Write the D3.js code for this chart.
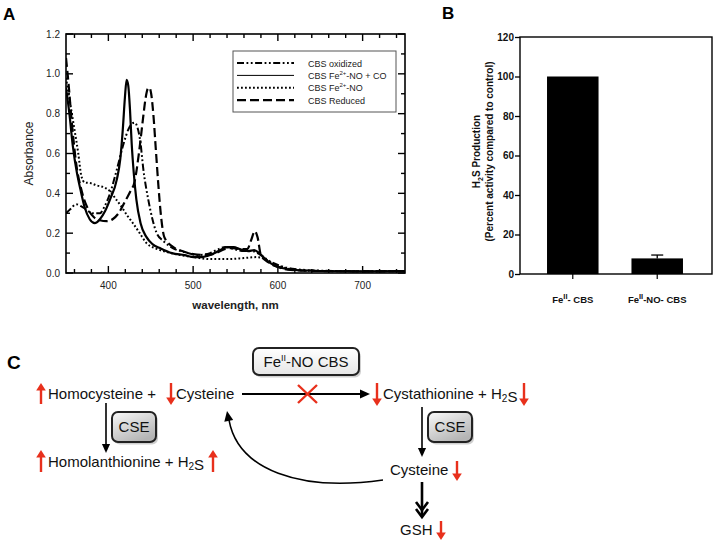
<!DOCTYPE html>
<html>
<head>
<meta charset="utf-8">
<script src="https://cdn.jsdelivr.net/npm/d3@7"></script>
<style>
  body { margin: 0; background: #fff; }
  svg { display: block; font-family: Arial, "Liberation Sans", sans-serif; }
</style>
</head>
<body>
<div id="fig"></div>
<script>
// ---- panel A: absorbance spectra, [wavelength nm, absorbance] ----
const oxidized = [[350,.30],[355,.32],[362,.345],[370,.33],[382,.30],[390,.30],[395,.33],[402,.40],[410,.52],[418,.65],[424,.725],[428,.75],[431,.755],[434,.735],[438,.65],[441,.53],[447,.37],[452,.27],[457,.20],[465,.16],[476,.125],[490,.105],[505,.09],[520,.10],[530,.12],[538,.13],[548,.12],[560,.11],[570,.11],[580,.09],[590,.06],[600,.04],[620,.02],[650,.012],[700,.009],[750,.01]];
const nitrosylCO = [[350,.93],[354,.80],[358,.64],[363,.50],[367,.42],[372,.33],[378,.27],[384,.25],[390,.27],[396,.31],[402,.37],[410,.47],[414,.57],[417,.72],[419.5,.88],[421.5,.97],[423.5,.94],[425.5,.82],[427.5,.65],[430,.50],[433,.37],[438,.25],[445,.18],[452,.145],[461,.125],[475,.10],[490,.09],[500,.08],[510,.08],[520,.09],[530,.11],[540,.13],[548,.13],[555,.12],[565,.11],[572,.115],[578,.10],[585,.07],[595,.04],[605,.025],[620,.015],[650,.01],[700,.008],[750,.009]];
const nitrosyl = [[350,.98],[355,.85],[360,.72],[364.5,.60],[368,.49],[372,.455],[380,.45],[386,.44],[395,.43],[402,.41],[409,.37],[416,.33],[422,.29],[429,.25],[437,.20],[445,.15],[455,.125],[469,.105],[485,.09],[500,.08],[520,.07],[540,.07],[560,.075],[575,.08],[585,.07],[595,.045],[605,.03],[620,.015],[650,.01],[700,.008],[750,.009]];
const reduced = [[350,1.08],[353,.95],[357,.75],[362,.55],[368,.42],[375,.33],[383,.28],[390,.265],[398,.26],[405,.27],[412,.30],[421,.37],[426,.41],[431,.46],[436,.60],[441,.78],[444,.88],[446.5,.925],[448.5,.93],[450.5,.90],[453,.80],[456,.62],[459,.44],[462,.29],[466,.18],[475,.135],[487,.11],[500,.095],[515,.09],[527,.10],[537,.12],[547,.125],[557,.12],[564,.12],[568,.16],[573,.21],[576,.18],[580,.09],[590,.05],[600,.03],[615,.015],[650,.01],[700,.008],[750,.009]];

const spectra = [
  { name: "CBS oxidized", pts: oxidized, dash: "7,2.5,1.8,2.5,1.8,2.5", width: 2 },
  { name: "CBS Fe2+-NO + CO", pts: nitrosylCO, dash: null, width: 2.2, legendWidth: 1 },
  { name: "CBS Fe2+-NO", pts: nitrosyl, dash: "1.8,2.2", width: 2 },
  { name: "CBS Reduced", pts: reduced, dash: "9,4", width: 2.2 }
];

const absTicks = [0, 0.2, 0.4, 0.6, 0.8, 1.0, 1.2];
const wlTicks = [400, 500, 600, 700];

// ---- panel B: H2S production ----
const bCategories = ["FeII- CBS", "FeII-NO- CBS"];
const bValues = [100, 7.9];
const bErrors = [0, 1.7];
const bTicks = [0, 20, 40, 60, 80, 100, 120];

const W = 714, H = 544;
const svg = d3.select("#fig").append("svg")
  .attr("width", W).attr("height", H)
  .attr("viewBox", `0 0 ${W} ${H}`);

const defs = svg.append("defs");

// ================= Panel A =================
const ax = { left: 66, right: 405, top: 34, bottom: 273 };
const xA = d3.scaleLinear().domain([350, 750]).range([ax.left, ax.right]);
const yA = d3.scaleLinear().domain([0, 1.2]).range([ax.bottom, ax.top]);

defs.append("clipPath").attr("id", "clipA")
  .append("rect").attr("x", ax.left).attr("y", ax.top)
  .attr("width", ax.right - ax.left).attr("height", ax.bottom - ax.top);

const gA = svg.append("g");

const line = d3.line()
  .x(d => xA(d[0])).y(d => yA(d[1]))
  .curve(d3.curveMonotoneX);

gA.append("g").attr("clip-path", "url(#clipA)")
  .selectAll("path").data(spectra).join("path")
  .attr("d", d => line(d.pts))
  .attr("fill", "none")
  .attr("stroke", "#000")
  .attr("stroke-width", d => d.width)
  .attr("stroke-dasharray", d => d.dash)
  .attr("stroke-linejoin", "round");

// inward ticks on all sides
const minorWl = d3.range(360, 750, 20).filter(v => !wlTicks.includes(v));
const minorAbs = d3.range(0.1, 1.2, 0.2);
const tickG = gA.append("g").attr("stroke", "#000").attr("stroke-width", 1.4);
[[ax.bottom, -1], [ax.top, 1]].forEach(([y0, s]) => {
  tickG.selectAll(null).data(wlTicks).join("line")
    .attr("x1", d => xA(d)).attr("x2", d => xA(d))
    .attr("y1", y0).attr("y2", y0 + s * 7);
  tickG.selectAll(null).data(minorWl).join("line")
    .attr("x1", d => xA(d)).attr("x2", d => xA(d))
    .attr("y1", y0).attr("y2", y0 + s * 4);
});
[[ax.left, 1], [ax.right, -1]].forEach(([x0, s]) => {
  tickG.selectAll(null).data(absTicks).join("line")
    .attr("y1", d => yA(d)).attr("y2", d => yA(d))
    .attr("x1", x0).attr("x2", x0 + s * 7);
  tickG.selectAll(null).data(minorAbs).join("line")
    .attr("y1", d => yA(d)).attr("y2", d => yA(d))
    .attr("x1", x0).attr("x2", x0 + s * 4);
});

gA.append("rect")
  .attr("x", ax.left).attr("y", ax.top)
  .attr("width", ax.right - ax.left).attr("height", ax.bottom - ax.top)
  .attr("fill", "none").attr("stroke", "#000").attr("stroke-width", 1.6);

gA.append("g").selectAll("text").data(absTicks).join("text")
  .attr("x", ax.left - 6).attr("y", d => yA(d) + 3.5)
  .attr("text-anchor", "end").attr("font-size", 10).attr("fill", "#222")
  .text(d3.format(".1f"));
gA.append("g").selectAll("text").data(wlTicks).join("text")
  .attr("x", d => xA(d)).attr("y", ax.bottom + 16)
  .attr("text-anchor", "middle").attr("font-size", 10).attr("fill", "#222")
  .text(d => d);

gA.append("text")
  .attr("transform", `translate(33,${(ax.top + ax.bottom) / 2}) rotate(-90)`)
  .attr("text-anchor", "middle").attr("font-size", 12).attr("fill", "#222")
  .text("Absorbance");
gA.append("text")
  .attr("x", (ax.left + ax.right) / 2).attr("y", ax.bottom + 36)
  .attr("text-anchor", "middle").attr("font-size", 11.5).attr("font-weight", "bold").attr("fill", "#222")
  .text("wavelength, nm");

// legend
const leg = gA.append("g");
leg.append("rect").attr("x", 233).attr("y", 51).attr("width", 163).attr("height", 61)
  .attr("fill", "#fff").attr("stroke", "#555").attr("stroke-width", 1);
const legRows = leg.selectAll("g").data(spectra).join("g")
  .attr("transform", (d, i) => `translate(0,${63 + i * 12.4})`);
legRows.append("line")
  .attr("x1", 237).attr("x2", 294)
  .attr("stroke", "#000")
  .attr("stroke-width", d => d.legendWidth || d.width)
  .attr("stroke-dasharray", d => d.dash);
legRows.append("text")
  .attr("x", 308).attr("y", 3.5).attr("font-size", 9).attr("fill", "#222")
  .each(function (d) {
    const t = d3.select(this);
    const m = d.name.match(/^(CBS Fe)(2\+)(.*)$/);
    if (m) {
      t.append("tspan").text(m[1]);
      t.append("tspan").attr("font-size", 6).attr("dy", -4).text(m[2]);
      t.append("tspan").attr("dy", 4).text(m[3]);
    } else t.text(d.name);
  });

svg.append("text").attr("x", 3).attr("y", 20)
  .attr("font-size", 17).attr("font-weight", "bold").text("A");

// ================= Panel B =================
const bx = { left: 520, right: 712, top: 37, bottom: 274 };
const xB = d3.scaleBand().domain(bCategories).range([bx.left, bx.right - 2])
  .paddingInner(0.39).paddingOuter(0.32);
const yB = d3.scaleLinear().domain([0, 120]).range([bx.bottom, bx.top]);
const gB = svg.append("g");

gB.selectAll("rect.bar").data(bValues).join("rect").attr("class", "bar")
  .attr("x", (d, i) => xB(bCategories[i]))
  .attr("width", xB.bandwidth())
  .attr("y", d => yB(d))
  .attr("height", d => yB(0) - yB(d))
  .attr("fill", "#000");

const errG = gB.append("g").attr("stroke", "#000").attr("stroke-width", 1.3);
bValues.forEach((v, i) => {
  if (!bErrors[i]) return;
  const cx = xB(bCategories[i]) + xB.bandwidth() / 2;
  errG.append("line").attr("x1", cx).attr("x2", cx).attr("y1", yB(v)).attr("y2", yB(v + bErrors[i]));
  errG.append("line").attr("x1", cx - 6).attr("x2", cx + 6).attr("y1", yB(v + bErrors[i])).attr("y2", yB(v + bErrors[i]));
});

gB.append("rect")
  .attr("x", bx.left).attr("y", bx.top)
  .attr("width", bx.right - bx.left).attr("height", bx.bottom - bx.top)
  .attr("fill", "none").attr("stroke", "#000").attr("stroke-width", 1.4);

const yAxisB = gB.append("g").attr("transform", `translate(${bx.left},0)`)
  .call(d3.axisLeft(yB).tickValues(bTicks).tickSize(5).tickSizeOuter(0));
yAxisB.select(".domain").remove();
yAxisB.selectAll("line").attr("stroke-width", 1.3);
yAxisB.selectAll("text").attr("font-size", 10).attr("font-weight", "bold")
  .attr("font-family", "Arial, 'Liberation Sans', sans-serif").attr("fill", "#111").attr("x", -6);

gB.append("g").selectAll("line").data(bCategories).join("line")
  .attr("x1", d => xB(d) + xB.bandwidth() / 2).attr("x2", d => xB(d) + xB.bandwidth() / 2)
  .attr("y1", bx.bottom).attr("y2", bx.bottom + 5)
  .attr("stroke", "#000").attr("stroke-width", 1.2);

gB.append("g").selectAll("text").data(bCategories).join("text")
  .attr("x", d => xB(d) + xB.bandwidth() / 2).attr("y", bx.bottom + 29)
  .attr("text-anchor", "middle").attr("font-size", 9.5).attr("font-weight", "bold").attr("fill", "#111")
  .each(function (d) {
    const t = d3.select(this);
    t.append("tspan").text("Fe");
    t.append("tspan").attr("font-size", 7.5).attr("dy", -4.5).text("II");
    t.append("tspan").attr("dy", 4.5).text(d.slice(4));
  });

const bTitle = gB.append("g")
  .attr("transform", `translate(0,${(bx.top + bx.bottom) / 2 - 4}) rotate(-90)`)
  .attr("font-size", 10).attr("font-weight", "bold").attr("fill", "#111").attr("text-anchor", "middle");
const t1 = bTitle.append("text").attr("x", 0).attr("y", 480);
t1.append("tspan").text("H");
t1.append("tspan").attr("font-size", 7).attr("dy", 3).text("2");
t1.append("tspan").attr("dy", -3).text("S Production");
bTitle.append("text").attr("x", 0).attr("y", 493).text("(Percent activity compared to control)");

svg.append("text").attr("x", 442).attr("y", 19)
  .attr("font-size", 17).attr("font-weight", "bold").text("B");

// ================= Panel C =================
const red = "#e8301c";
const gC = svg.append("g").attr("font-size", 15).attr("fill", "#111");

svg.append("text").attr("x", 7).attr("y", 369)
  .attr("font-size", 19).attr("font-weight", "bold").text("C");

const boxGrad = defs.append("linearGradient").attr("id", "cseGrad")
  .attr("x1", 0).attr("y1", 0).attr("x2", 0.6).attr("y2", 1);
boxGrad.append("stop").attr("offset", "0%").attr("stop-color", "#fafafa");
boxGrad.append("stop").attr("offset", "100%").attr("stop-color", "#b4b4b4");
const fnGrad = defs.append("linearGradient").attr("id", "fnGrad")
  .attr("x1", 0).attr("y1", 0).attr("x2", 0).attr("y2", 1);
fnGrad.append("stop").attr("offset", "0%").attr("stop-color", "#ffffff");
fnGrad.append("stop").attr("offset", "100%").attr("stop-color", "#e6e6e6");

function box(x, y, w, h, fill, label, sup) {
  gC.append("rect").attr("x", x + 2).attr("y", y + 2.5).attr("width", w).attr("height", h)
    .attr("rx", 6).attr("fill", "#cfcfcf");
  gC.append("rect").attr("x", x).attr("y", y).attr("width", w).attr("height", h)
    .attr("rx", 6).attr("fill", fill).attr("stroke", "#222").attr("stroke-width", 2);
  const t = gC.append("text").attr("x", x + w / 2).attr("y", y + h / 2 + 5).attr("text-anchor", "middle");
  if (sup) {
    t.append("tspan").text("Fe");
    t.append("tspan").attr("font-size", 9).attr("dy", -6).text("II");
    t.append("tspan").attr("dy", 6).text("-NO CBS");
  } else t.text(label);
}

function redArrow(x, y1, y2) {
  // y1 = tail, y2 = tip
  const s = y2 > y1 ? 1 : -1;
  gC.append("line").attr("x1", x).attr("x2", x).attr("y1", y1).attr("y2", y2 - s * 6)
    .attr("stroke", red).attr("stroke-width", 2.4);
  gC.append("path").attr("d", `M${x - 4.8},${y2 - s * 7.5}L${x},${y2}L${x + 4.8},${y2 - s * 7.5}Z`)
    .attr("fill", red);
}

function blackArrowHead(x, y, angle, size) {
  gC.append("path")
    .attr("d", `M0,0L${-size},${-size * 0.45}L${-size},${size * 0.45}Z`)
    .attr("transform", `translate(${x},${y}) rotate(${angle})`)
    .attr("fill", "#000");
}

function label(x, y, parts) {
  const t = gC.append("text").attr("x", x).attr("y", y);
  parts.forEach(p => {
    if (typeof p === "string") t.append("tspan").text(p);
    else {
      t.append("tspan").attr("font-size", 10).attr("dy", 3).text(p.sub);
      t.append("tspan").attr("dy", -3).text("");
    }
  });
  return t;
}

// row 1
redArrow(41, 404, 383);
label(48, 399, ["Homocysteine  +"]);
redArrow(171, 383, 405);
label(176, 399, ["Cysteine"]);

gC.append("line").attr("x1", 242).attr("x2", 362).attr("y1", 394).attr("y2", 394)
  .attr("stroke", "#000").attr("stroke-width", 2.2);
blackArrowHead(370, 394, 0, 10);
gC.append("path").attr("d", "M298,385L317,403M317,385L298,403")
  .attr("stroke", red).attr("stroke-width", 2.4).attr("fill", "none");
box(253, 348, 106, 27, "url(#fnGrad)", "", true);

redArrow(377, 383, 406);
label(383, 399, ["Cystathionine + H", { sub: "2" }, "S"]);
redArrow(524, 383, 406);

// left branch
gC.append("line").attr("x1", 106).attr("x2", 106).attr("y1", 403).attr("y2", 446)
  .attr("stroke", "#000").attr("stroke-width", 1.6);
blackArrowHead(106, 453, 90, 9);
box(112, 412, 44, 30, "url(#cseGrad)", "CSE", false);
redArrow(41, 472, 450);
label(48, 467, ["Homolanthionine + H", { sub: "2" }, "S"]);
redArrow(213, 472, 450);

// right branch
gC.append("line").attr("x1", 422).attr("x2", 422).attr("y1", 407).attr("y2", 450)
  .attr("stroke", "#000").attr("stroke-width", 1.6);
blackArrowHead(422, 457, 90, 9);
box(428, 412, 44, 30, "url(#cseGrad)", "CSE", false);
label(390, 475, ["Cysteine"]);
redArrow(457, 461, 481);

// recycling curve
gC.append("path").attr("d", "M383,480C300,492 238,470 229,420")
  .attr("fill", "none").attr("stroke", "#000").attr("stroke-width", 1.5);
blackArrowHead(227, 411, -100, 10);

// to GSH
gC.append("line").attr("x1", 422).attr("x2", 422).attr("y1", 482).attr("y2", 516)
  .attr("stroke", "#000").attr("stroke-width", 2.6);
gC.append("path").attr("d", "M416,502L422,510L428,502M416,509L422,517L428,509")
  .attr("fill", "none").attr("stroke", "#000").attr("stroke-width", 2.6);
label(400, 535, ["GSH"]);
redArrow(441, 521, 540);
</script>
</body>
</html>
